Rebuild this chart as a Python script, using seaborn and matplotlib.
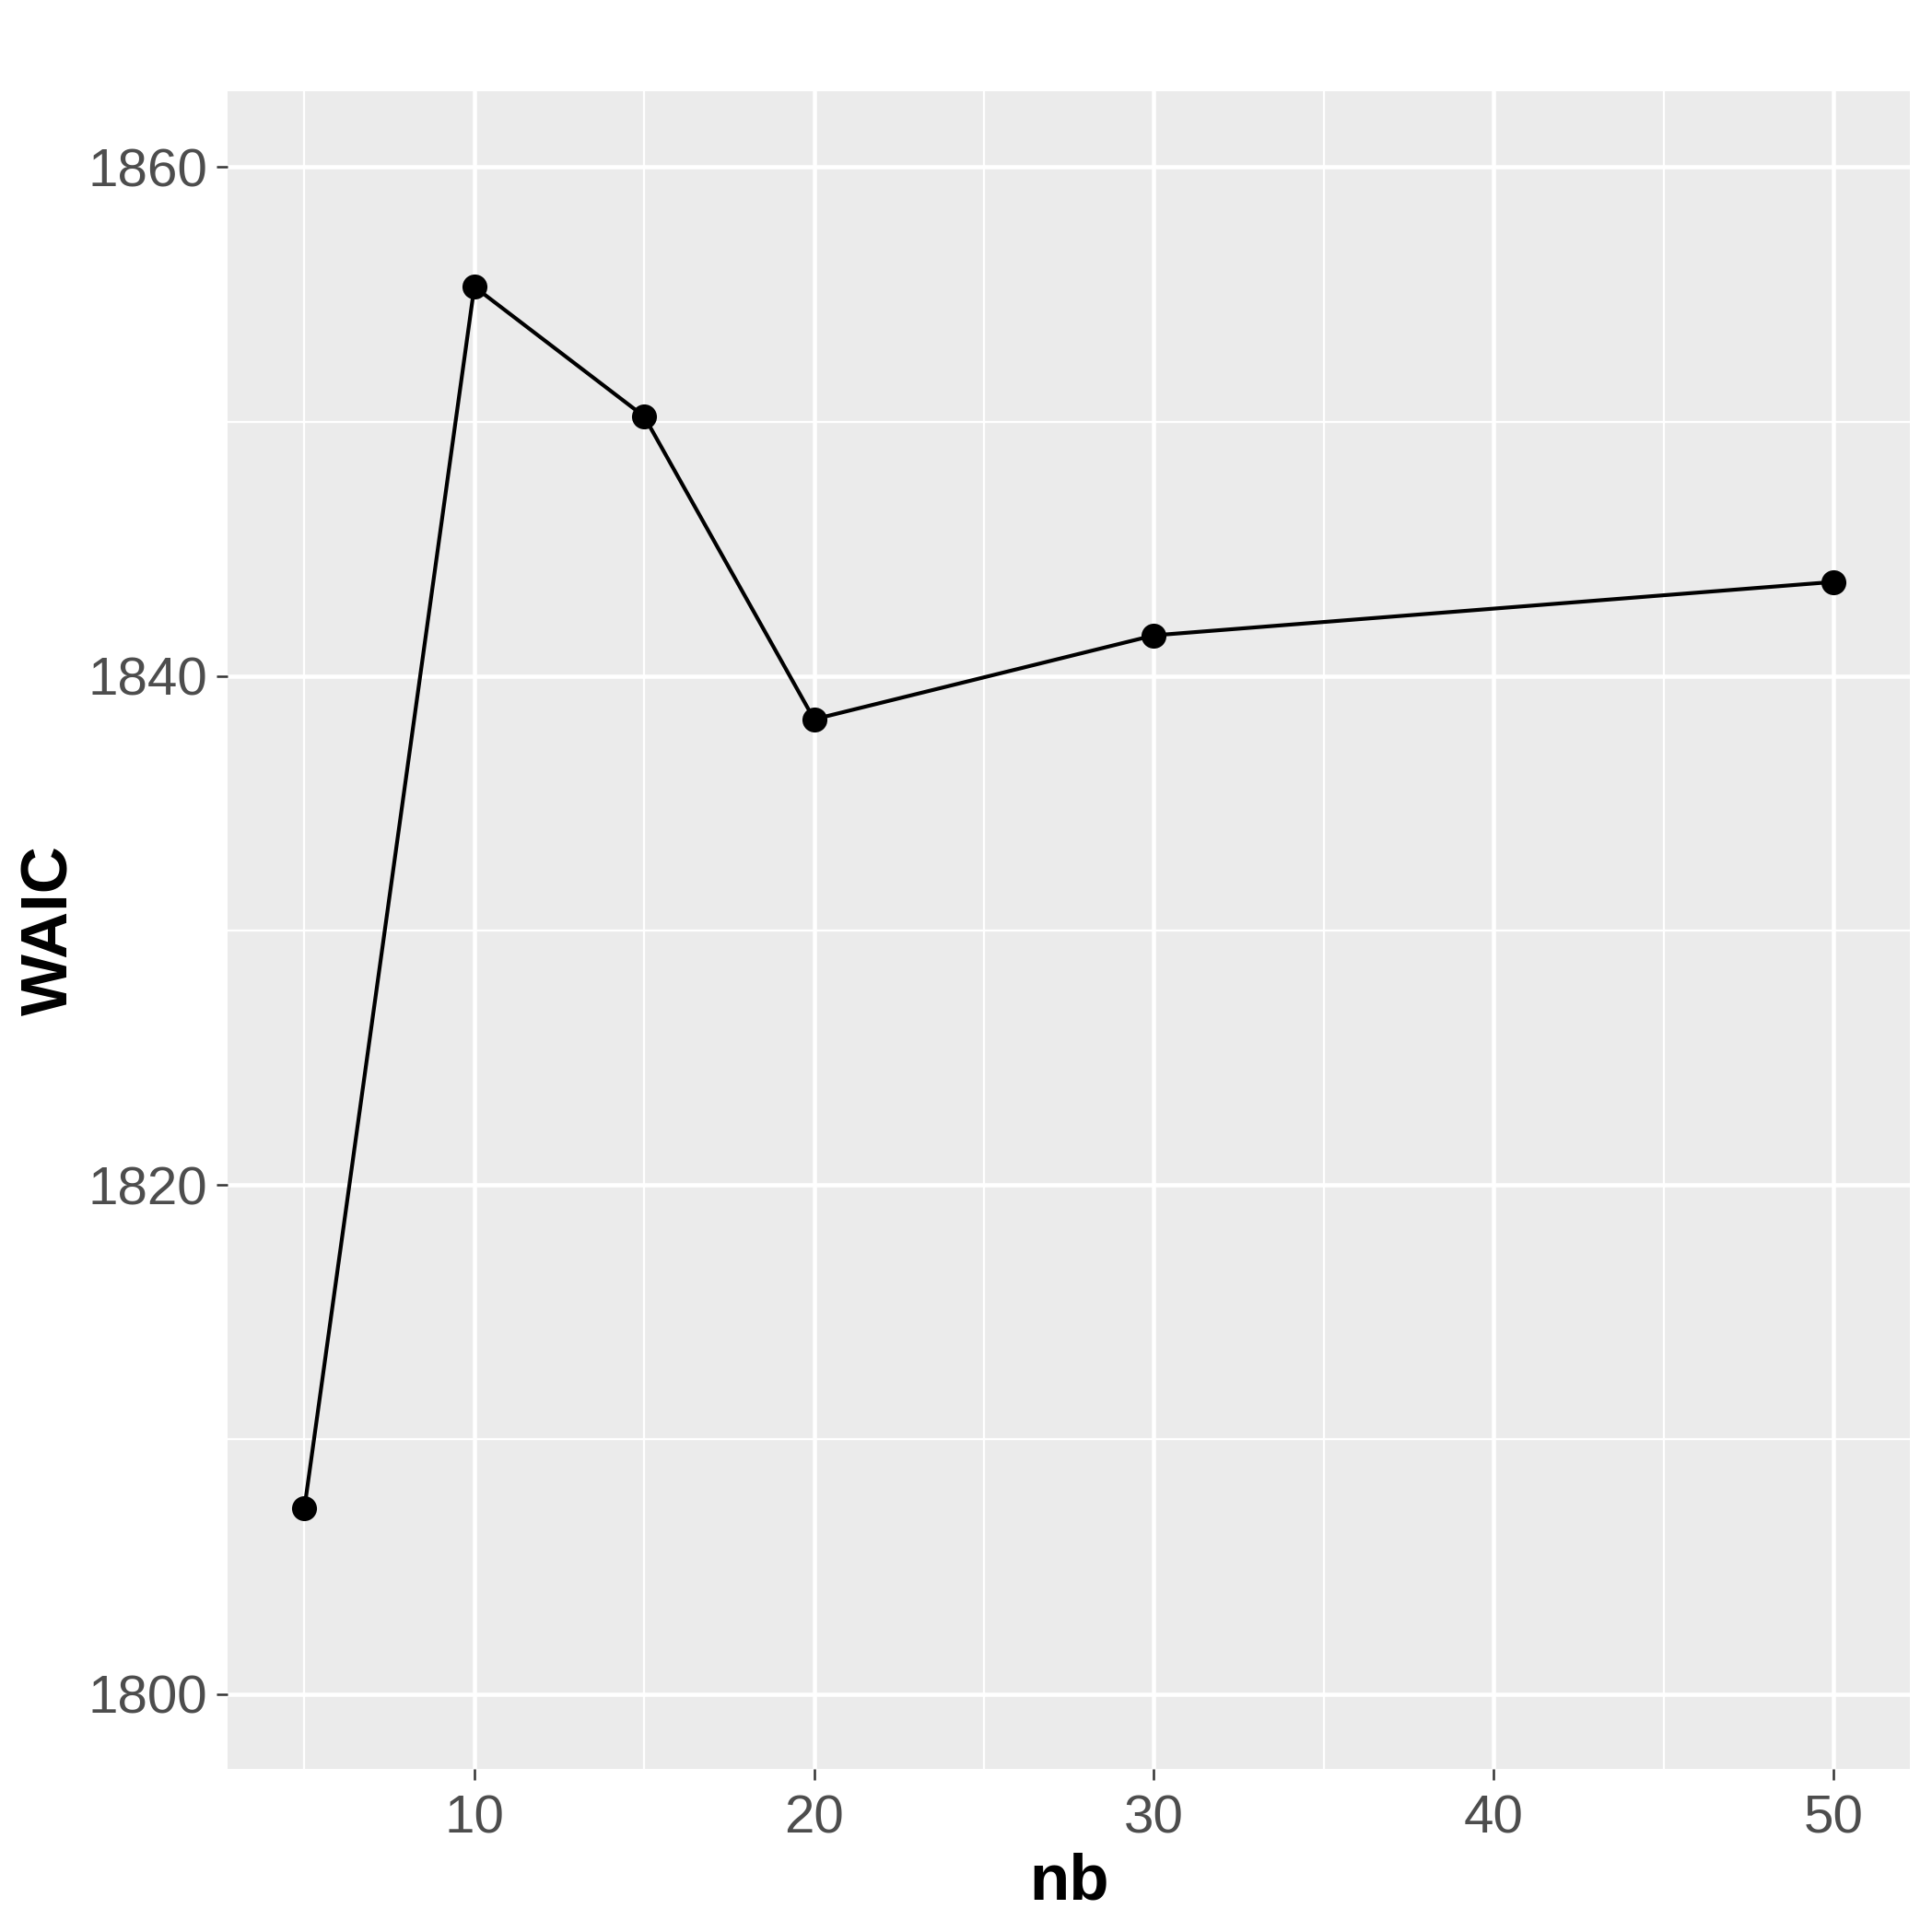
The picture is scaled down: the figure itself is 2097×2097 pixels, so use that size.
import pandas as pd
import matplotlib
matplotlib.use("Agg")
import matplotlib.pyplot as plt
import seaborn as sns
from matplotlib.ticker import MultipleLocator

# 数据
nb = [5, 10, 15, 20, 30, 50]
waic = [1807.3, 1855.3, 1850.2, 1838.3, 1841.6, 1843.7]
x_ticks = [10, 20, 30, 40, 50]
y_ticks = [1800, 1820, 1840, 1860]

df = pd.DataFrame({'nb': nb, 'WAIC': waic})

sns.set_style("darkgrid", {"axes.facecolor": "#EBEBEB", "grid.color": "white"})
plt.rcParams['font.family'] = ['Liberation Sans', 'DejaVu Sans']

fig, ax = plt.subplots(figsize=(6.99, 6.99), dpi=300)
fig.subplots_adjust(left=0.118, right=0.9886, top=0.953, bottom=0.0844)

sns.lineplot(data=df, x='nb', y='WAIC', ax=ax, color='black', linewidth=1.0,
             marker='o', markersize=6.5, markeredgewidth=0, zorder=3)

ax.set_xlim(2.75, 52.25)
ax.set_ylim(1797.05, 1863.0)
ax.set_xticks(x_ticks)
ax.set_yticks(y_ticks)
ax.xaxis.set_minor_locator(MultipleLocator(5))
ax.yaxis.set_minor_locator(MultipleLocator(10))

# 网格
ax.grid(which='major', color='white', linewidth=1.1)
ax.grid(which='minor', color='white', linewidth=0.55)
ax.set_axisbelow(True)
for s in ax.spines.values():
    s.set_visible(False)

ax.tick_params(which='major', bottom=True, left=True, length=2.9, width=0.6,
               color='#333333', labelsize=14, labelcolor='#4D4D4D', pad=2.5)
ax.tick_params(axis='x', which='major', pad=3.8)
ax.tick_params(which='minor', bottom=False, left=False, length=0)

ax.set_xlabel('nb', fontsize=17, fontweight='bold', color='black', labelpad=2)
ax.set_ylabel('WAIC', fontsize=17, fontweight='bold', color='black', labelpad=1.5)

fig.savefig('out.png', dpi=300)
